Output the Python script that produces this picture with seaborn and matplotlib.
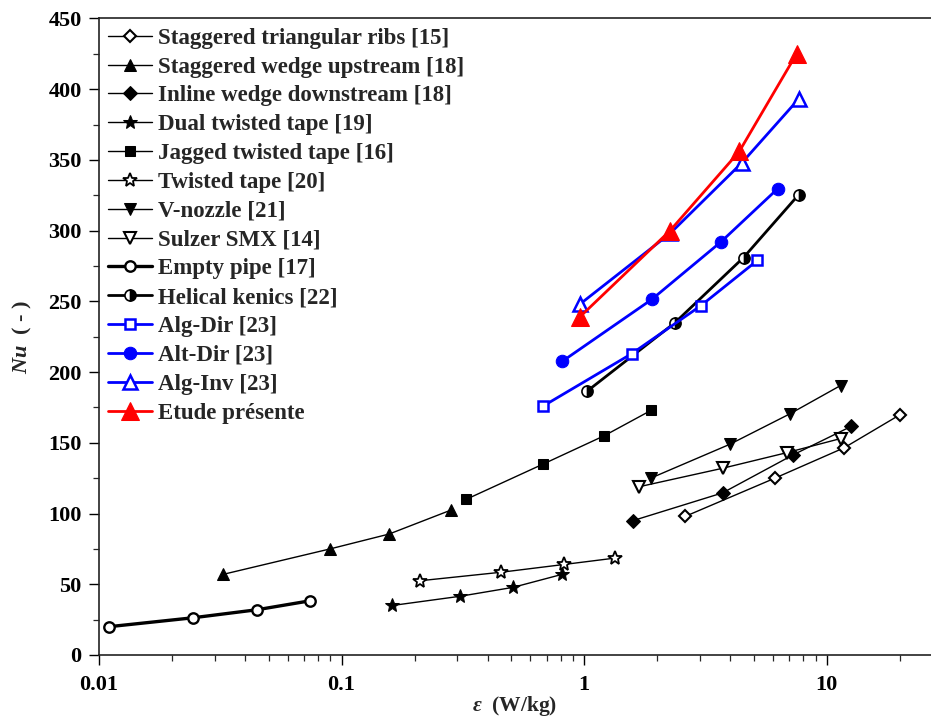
import numpy as np
import pandas as pd
import matplotlib
matplotlib.use("Agg")
import matplotlib.pyplot as plt
import seaborn as sns
from matplotlib.ticker import LogLocator, MultipleLocator, FixedLocator, FixedFormatter

sns.set_theme(style="ticks")
plt.rcParams["font.family"] = ["Liberation Serif", "DejaVu Serif"]
plt.rcParams["font.weight"] = "bold"
plt.rcParams["axes.labelweight"] = "bold"
plt.rcParams["mathtext.fontset"] = "custom"
plt.rcParams["mathtext.it"] = "Liberation Serif:bold:italic"
plt.rcParams["mathtext.rm"] = "Liberation Serif:bold"
plt.rcParams["mathtext.bf"] = "Liberation Serif:bold"

# ==============================
# DATA
# ==============================
ribs_x = [2.61, 6.11, 11.8, 20.1]
ribs_y = [98, 125, 146.5, 170]

wedge_up_x = [0.0325, 0.0897, 0.157, 0.283]
wedge_up_y = [57, 75, 85.5, 102.5]

wedge_down_x = [1.59, 3.72, 7.27, 12.6]
wedge_down_y = [95, 114.6, 141.5, 161.6]

dual_tape_x = [0.162, 0.308, 0.509, 0.811]
dual_tape_y = [35, 41.5, 47.8, 57]

jagged_x = [0.326, 0.678, 1.21, 1.89]
jagged_y = [110, 135, 155, 173]

tape_x = [0.211, 0.455, 0.827, 1.34]
tape_y = [52.5, 58.5, 64, 68.5]

vnozzle_x = [1.88, 3.99, 7.05, 11.4]
vnozzle_y = [125, 149, 170.5, 190.5]

smx_x = [1.69, 3.72, 6.83, 11.4]
smx_y = [119, 132, 143, 153]

empty_x = [0.011, 0.0244, 0.0449, 0.0741]
empty_y = [20, 26.3, 32, 38.3]

kenics_x = [1.03, 2.37, 4.54, 7.65]
kenics_y = [186.6, 235, 281, 325.3]

algdir_x = [0.678, 1.57, 3.03, 5.18]
algdir_y = [176, 213, 247, 279]

altdir_x = [0.814, 1.90, 3.66, 6.29]
altdir_y = [207.7, 251.4, 292, 329.8]

alginv_x = [0.96, 2.26, 4.47, 7.65]
alginv_y = [248, 298, 348, 393]

etude_x = [0.96, 2.26, 4.36, 7.51]
etude_y = [239, 300, 356, 425]

series = [
    ("Staggered triangular ribs [15]", ribs_x, ribs_y,
     dict(color="black", lw=1.0, marker="D", ms=6.5, mfc="white", mec="black", mew=1.5)),
    ("Staggered wedge upstream [18]", wedge_up_x, wedge_up_y,
     dict(color="black", lw=1.0, marker="^", ms=9, mfc="black", mec="black")),
    ("Inline wedge downstream [18]", wedge_down_x, wedge_down_y,
     dict(color="black", lw=1.0, marker="D", ms=7, mfc="black", mec="black")),
    ("Dual twisted tape [19]", dual_tape_x, dual_tape_y,
     dict(color="black", lw=1.0, marker="*", ms=10, mfc="black", mec="black")),
    ("Jagged twisted tape [16]", jagged_x, jagged_y,
     dict(color="black", lw=1.0, marker="s", ms=7, mfc="black", mec="black")),
    ("Twisted tape [20]", tape_x, tape_y,
     dict(color="black", lw=1.0, marker="*", ms=10, mfc="white", mec="black", mew=1.3)),
    ("V-nozzle [21]", vnozzle_x, vnozzle_y,
     dict(color="black", lw=1.0, marker="v", ms=9, mfc="black", mec="black")),
    ("Sulzer SMX [14]", smx_x, smx_y,
     dict(color="black", lw=1.0, marker="v", ms=8.5, mfc="white", mec="black", mew=1.5)),
    ("Empty pipe [17]", empty_x, empty_y,
     dict(color="black", lw=2.4, marker="o", ms=7.5, mfc="white", mec="black", mew=1.7)),
    ("Helical kenics [22]", kenics_x, kenics_y,
     dict(color="black", lw=2.0, marker="o", ms=8, mfc="black", mec="black",
          fillstyle="right", markerfacecoloralt="white", mew=1.2)),
    ("Alg-Dir [23]", algdir_x, algdir_y,
     dict(color="#0000ff", lw=2.0, marker="s", ms=7, mfc="white", mec="#0000ff", mew=1.8)),
    ("Alt-Dir [23]", altdir_x, altdir_y,
     dict(color="#0000ff", lw=2.0, marker="o", ms=9, mfc="#0000ff", mec="#0000ff")),
    ("Alg-Inv [23]", alginv_x, alginv_y,
     dict(color="#0000ff", lw=2.0, marker="^", ms=10, mfc="white", mec="#0000ff", mew=1.8)),
    ("Etude présente", etude_x, etude_y,
     dict(color="#ff0000", lw=2.0, marker="^", ms=13, mfc="#ff0000", mec="#ff0000")),
]

# ==============================
# PLOT
# ==============================
fig = plt.figure(figsize=(9.31, 7.17), dpi=100)
ax = fig.add_axes([0.1063, 0.0865, 0.8937, 0.8877])

for name, xs, ys, style in series:
    df = pd.DataFrame({"x": xs, "y": ys})
    sns.lineplot(data=df, x="x", y="y", ax=ax, label=name, sort=False,
                 markeredgecolor=style.pop("mec"), **style)

ax.set_xscale("log")
ax.set_xlim(0.01, 26.9)
ax.set_ylim(0, 450)

ax.yaxis.set_major_locator(MultipleLocator(50))
ax.yaxis.set_minor_locator(MultipleLocator(25))
ax.xaxis.set_major_locator(FixedLocator([0.01, 0.1, 1, 10]))
ax.xaxis.set_major_formatter(FixedFormatter(["0.01", "0.1", "1", "10"]))
ax.xaxis.set_minor_locator(LogLocator(base=10, subs=np.arange(2, 10)))

ax.tick_params(axis="both", which="major", direction="out", length=7.5, width=1.0,
               labelsize=16, colors="black")
ax.tick_params(axis="y", which="major", pad=5)
ax.tick_params(axis="x", which="major", pad=7)
ax.tick_params(axis="both", which="minor", direction="out", length=4, width=0.9)
for lab in ax.get_xticklabels() + ax.get_yticklabels():
    lab.set_fontweight("bold")

ax.spines["right"].set_visible(False)
for side in ["left", "bottom", "top"]:
    ax.spines[side].set_color("#222222")
    ax.spines[side].set_linewidth(1.2)

ax.set_xlabel(r"$\mathit{ε}$  (W/kg)", fontsize=15.5, fontweight="bold")
ax.xaxis.set_label_coords(0.5, -0.061)
ax.set_ylabel(r"$\mathit{Nu}$  ( - )", fontsize=16, fontweight="bold", labelpad=10)

leg = ax.legend(loc="upper left", bbox_to_anchor=(0.0, 1.0), frameon=False,
                fontsize=16.5, handlelength=1.9, handletextpad=0.28,
                labelspacing=0.34, borderaxespad=0.0)
for t in leg.get_texts():
    t.set_fontweight("bold")

plt.savefig("out.png", dpi=100)
